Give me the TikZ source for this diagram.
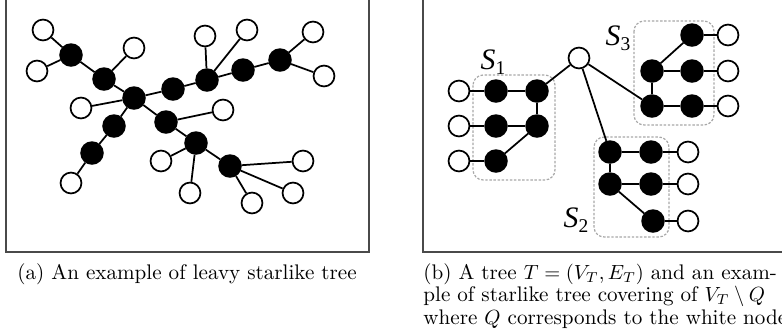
\documentclass[tikz,border=0pt]{standalone}
\usepackage{fontspec}
\usepackage{amsmath}
\usetikzlibrary{positioning}
\newfontfamily\labfont{Liberation Serif}
\definecolor{frameGray}{HTML}{4A4A4A}
\definecolor{setGray}{HTML}{A8A8A8}
\tikzset{
  qnode/.style={circle, draw=black, fill=white, line width=0.85pt,
        minimum size=10.2pt, inner sep=0pt},
  vnode/.style={circle, draw=black, fill=black, line width=0.85pt,
        minimum size=10.6pt, inner sep=0pt},
  tedge/.style={line width=0.85pt, draw=black},
  panel/.style={draw=frameGray, line width=0.5pt},
  setbox/.style={draw=setGray, dashed, dash pattern=on 1.2pt off 0.8pt,
        line width=0.6pt, rounded corners=5pt},
  setlab/.style={font=\labfont\fontsize{14.5}{14.5}\selectfont, inner sep=0pt},
  capt/.style={font=\fontsize{10.3}{10.8}\selectfont, inner sep=0pt, align=left}
}
\newcommand{\setname}[1]{\textit{S}\lower2.6pt\hbox{\fontsize{9.5}{9.5}\selectfont #1}}
\begin{document}
\begin{tikzpicture}[x=0.4878pt, y=-0.4878pt]
\clip (0,0) rectangle (782,333);

% panel (a): leavy starlike tree
\draw[panel] (6,-10) rectangle (369,252);
\node[qnode] (qa1) at (43,30) {};
\node[qnode] (qa2) at (37,71) {};
\node[vnode] (va1) at (71,55) {};
\node[vnode] (va2) at (104,79) {};
\node[qnode] (qa3) at (134,48) {};
\node[vnode] (va3) at (134,98) {};
\node[qnode] (qa4) at (81,108) {};
\node[vnode] (va4) at (114,126) {};
\node[vnode] (va5) at (92,153) {};
\node[qnode] (qa5) at (71,183) {};
\node[vnode] (va6) at (173,89) {};
\node[vnode] (va7) at (207,80) {};
\node[qnode] (qa6) at (205,36) {};
\node[qnode] (qa7) at (247,30) {};
\node[vnode] (va8) at (243,70) {};
\node[vnode] (va9) at (280,60) {};
\node[qnode] (qa8) at (313,32) {};
\node[qnode] (qa9) at (324,76) {};
\node[vnode] (va10) at (166,122) {};
\node[qnode] (qa10) at (223,110) {};
\node[vnode] (va11) at (196,143) {};
\node[qnode] (qa11) at (161,161) {};
\node[qnode] (qa12) at (190,193) {};
\node[vnode] (va12) at (230,166) {};
\node[qnode] (qa13) at (303,161) {};
\node[qnode] (qa14) at (293,193) {};
\node[qnode] (qa15) at (252,203) {};

\foreach \u/\v in {qa1/va1, qa2/va1, va1/va2, va2/qa3, va2/va3, va3/qa4,
                   va3/va4, va4/va5, va5/qa5, va3/va6, va6/va7, va7/qa6,
                   va7/qa7, va7/va8, va8/va9, va9/qa8, va9/qa9, va3/va10,
                   va10/qa10, va10/va11, va11/qa11, va11/qa12, va11/va12,
                   va12/qa13, va12/qa14, va12/qa15}
  \draw[tedge] (\u) -- (\v);

\node[capt, anchor=base west] (capa) at (17,279)
  {(a) An example of leavy starlike tree};

% panel (b): starlike tree covering
\draw[panel] (423,-10) rectangle (800,252);
\draw[setbox] (473,75) rectangle (555,180);
\draw[setbox] (594,137) rectangle (669,237);
\draw[setbox] (634,21) rectangle (714,125);

\node[qnode] (q0) at (579,58) {};
% S1
\node[vnode] (s1a) at (496,91) {};
\node[vnode] (s1b) at (537,91) {};
\node[vnode] (s1c) at (496,126) {};
\node[vnode] (s1d) at (537,126) {};
\node[vnode] (s1e) at (496,161) {};
\node[qnode] (q1a) at (459,91) {};
\node[qnode] (q1b) at (459,126) {};
\node[qnode] (q1c) at (459,161) {};
% S2
\node[vnode] (s2a) at (610,152) {};
\node[vnode] (s2b) at (651,152) {};
\node[vnode] (s2c) at (610,184) {};
\node[vnode] (s2d) at (651,184) {};
\node[vnode] (s2e) at (653,221) {};
\node[qnode] (q2a) at (688,152) {};
\node[qnode] (q2b) at (688,184) {};
\node[qnode] (q2c) at (688,221) {};
% S3
\node[vnode] (s3a) at (692,35) {};
\node[vnode] (s3b) at (652,71) {};
\node[vnode] (s3c) at (692,71) {};
\node[vnode] (s3d) at (652,106) {};
\node[vnode] (s3e) at (692,106) {};
\node[qnode] (q3a) at (728,35) {};
\node[qnode] (q3b) at (728,71) {};
\node[qnode] (q3c) at (728,106) {};

\foreach \u/\v in {q0/s1b, q0/s2a, q0/s3d,
                   q1a/s1a, s1a/s1b, s1b/s1d, q1b/s1c, s1c/s1d, q1c/s1e, s1e/s1d,
                   s2a/s2b, s2b/q2a, s2a/s2c, s2c/s2d, s2d/q2b, s2c/s2e, s2e/q2c,
                   s3b/s3a, s3a/q3a, s3b/s3c, s3c/q3b, s3b/s3d, s3d/s3e, s3e/q3c}
  \draw[tedge] (\u) -- (\v);

\node[setlab] (lab1) at (493,62) {\setname{1}};
\node[setlab] (lab2) at (576,220) {\setname{2}};
\node[setlab] (lab3) at (618,38) {\setname{3}};

\node[capt, anchor=base west] (capb) at (423,324)
  {(b) A tree $T=(V_T,E_T)$ and an exam-\\
   ple of starlike tree covering of $V_T\setminus Q$\\
   where $Q$ corresponds to the white nodes};
\end{tikzpicture}
\end{document}
